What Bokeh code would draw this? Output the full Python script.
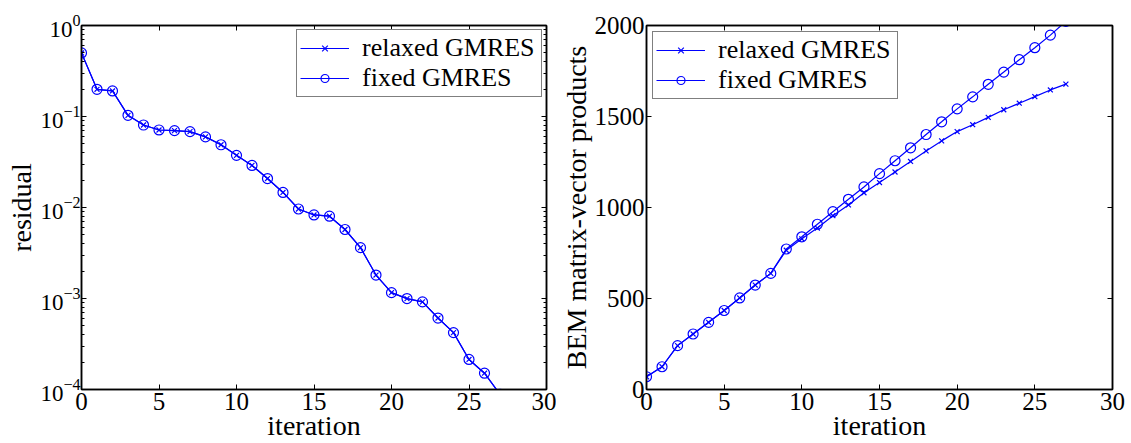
from bokeh.plotting import figure
from bokeh.models import Range1d, FixedTicker, LinearAxis, LogAxis, Legend, LegendItem
from bokeh.layouts import row
from bokeh.embed import file_html
from bokeh.resources import INLINE

iterations = list(range(28))

residual_relaxed = [0.499, 0.199, 0.191, 0.103, 0.0806, 0.0711, 0.0700, 0.0682,
                    0.0597, 0.0489, 0.0374, 0.0290, 0.0208, 0.01463, 0.00963,
                    0.00828, 0.00802, 0.00573, 0.00362, 0.00181, 0.00116,
                    0.000998, 0.000918, 0.00061, 0.000422, 0.000214, 0.000151,
                    0.0000885]
residual_fixed = [0.499, 0.199, 0.191, 0.103, 0.0806, 0.0711, 0.0700, 0.0682,
                  0.0597, 0.0489, 0.0374, 0.0290, 0.0208, 0.01463, 0.00963,
                  0.00828, 0.00802, 0.00573, 0.00362, 0.00181, 0.00116,
                  0.000998, 0.000918, 0.00061, 0.000422, 0.000214, 0.000151,
                  0.0000885]

matvec_relaxed = [70, 125, 241, 305, 369, 434, 503, 574, 638, 765, 828, 887,
                  955, 1014, 1081, 1137, 1195, 1253, 1311, 1366, 1417, 1455,
                  1495, 1537, 1573, 1609, 1646, 1678]
matvec_fixed = [70, 125, 241, 305, 369, 434, 503, 574, 638, 772, 839, 908,
                977, 1045, 1113, 1186, 1257, 1328, 1401, 1471, 1542, 1608,
                1677, 1744, 1812, 1878, 1947, 2023]

x_ticks = [0, 5, 10, 15, 20, 25, 30]
log_ticks = [1e-4, 1e-3, 1e-2, 1e-1, 1.0]
log_minor = [m * 10.0 ** e for e in range(-4, 0) for m in range(2, 10)]
lin_ticks = [0, 500, 1000, 1500, 2000]

FONT = "Liberation Serif"
BLUE = "#0000ff"


def style_axis(ax, labels=True, minor=False, tick_size="25px"):
    ax.axis_line_color = "black"
    ax.axis_line_width = 1.5
    ax.major_tick_in = 5
    ax.major_tick_out = 0
    ax.major_tick_line_color = "black"
    ax.major_tick_line_width = 1
    if minor:
        ax.minor_tick_in = 3
        ax.minor_tick_out = 0
        ax.minor_tick_line_color = "black"
        ax.minor_tick_line_width = 1
    else:
        ax.minor_tick_line_color = None
    ax.major_label_text_font = FONT
    ax.major_label_text_color = "black"
    ax.axis_label_text_font = FONT
    ax.axis_label_text_font_style = "normal"
    ax.axis_label_text_color = "black"
    ax.axis_label_text_font_size = "28px"
    if labels:
        ax.major_label_text_font_size = tick_size
        ax.major_label_standoff = 3
    else:
        ax.major_label_text_font_size = "0px"
        ax.major_label_text_alpha = 0
        ax.major_label_standoff = 0


def base_fig(width, left_border, right_border, y_type, y_range):
    p = figure(width=width, height=443, output_backend="svg", toolbar_location=None,
               x_range=Range1d(0, 30), y_range=y_range, y_axis_type=y_type,
               min_border_left=left_border, min_border_right=right_border,
               min_border_top=25, min_border_bottom=51)
    p.grid.visible = False
    p.outline_line_color = "black"
    p.outline_line_width = 1.5
    p.background_fill_color = "white"
    p.border_fill_color = "white"
    return p


def add_series(p, ys_relaxed, ys_fixed):
    l1 = p.line(iterations, ys_relaxed, line_color=BLUE, line_width=1.2)
    m1 = p.scatter(iterations, ys_relaxed, marker="x", size=7, line_color=BLUE, line_width=1.2)
    l2 = p.line(iterations, ys_fixed, line_color=BLUE, line_width=1.2)
    m2 = p.scatter(iterations, ys_fixed, marker="circle", size=10, line_color=BLUE,
                   fill_color=None, line_width=1.2)
    return [LegendItem(label="relaxed GMRES", renderers=[l1, m1]),
            LegendItem(label="fixed GMRES", renderers=[l2, m2])]


def add_legend(p, items, loc, margin):
    leg = Legend(items=items, location=loc, margin=margin, padding=3, spacing=0,
                 glyph_width=49, glyph_height=20, label_standoff=13, label_height=20,
                 label_width=176,
                 label_text_font=FONT, label_text_font_size="26px",
                 label_text_line_height=0.85,
                 label_text_color="black",
                 border_line_color="black", border_line_width=1.5,
                 background_fill_color="white", background_fill_alpha=1)
    p.add_layout(leg, "center")


# Left: residual
p1 = base_fig(556, 81, 10, "log", Range1d(1e-4, 1.0))
items1 = add_series(p1, residual_relaxed, residual_fixed)
p1.xaxis.ticker = FixedTicker(ticks=x_ticks)
p1.yaxis.ticker = FixedTicker(ticks=log_ticks, minor_ticks=log_minor)
p1.xaxis.axis_label = "iteration"
p1.yaxis.axis_label = "residual"
for ax in p1.xaxis:
    style_axis(ax)
    ax.axis_label_standoff = -3
for ax in p1.yaxis:
    style_axis(ax, minor=True, tick_size="23px")
    ax.major_label_standoff = 1
    ax.axis_label_standoff = 0
top1 = LinearAxis(ticker=FixedTicker(ticks=x_ticks))
style_axis(top1, labels=False)
p1.add_layout(top1, "above")
right1 = LogAxis(ticker=FixedTicker(ticks=log_ticks, minor_ticks=log_minor))
style_axis(right1, labels=False, minor=True)
p1.add_layout(right1, "right")
add_legend(p1, items1, "top_right", 4)

# Right: matrix-vector products
p2 = base_fig(575, 90, 19, "linear", Range1d(0, 2000))
items2 = add_series(p2, matvec_relaxed, matvec_fixed)
p2.xaxis.ticker = FixedTicker(ticks=x_ticks)
p2.yaxis.ticker = FixedTicker(ticks=lin_ticks)
p2.xaxis.axis_label = "iteration"
p2.yaxis.axis_label = "BEM matrix-vector products"
for ax in p2.xaxis:
    style_axis(ax)
    ax.axis_label_standoff = -3
for ax in p2.yaxis:
    style_axis(ax)
    ax.major_label_standoff = 2
    ax.axis_label_standoff = 0
top2 = LinearAxis(ticker=FixedTicker(ticks=x_ticks))
style_axis(top2, labels=False)
p2.add_layout(top2, "above")
right2 = LinearAxis(ticker=FixedTicker(ticks=lin_ticks))
style_axis(right2, labels=False)
p2.add_layout(right2, "right")
add_legend(p2, items2, "top_left", 6)

layout = row(p1, p2)
open("out.html", "w").write(file_html(layout, INLINE))
